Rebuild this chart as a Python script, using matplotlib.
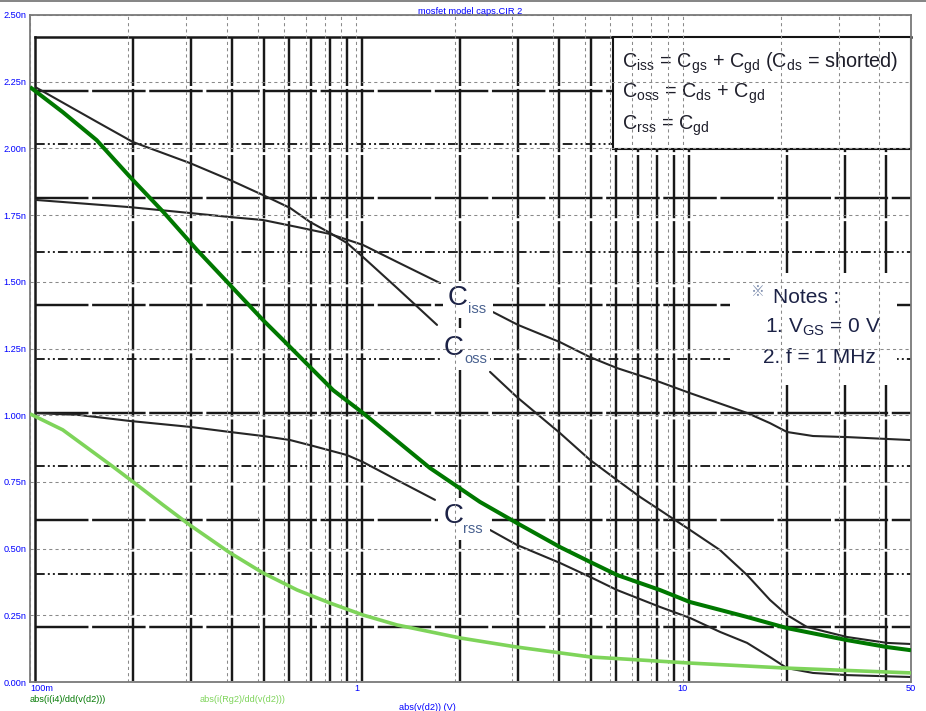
import numpy as np
import matplotlib
matplotlib.use("Agg")
import matplotlib.pyplot as plt
from matplotlib.patches import Rectangle
from matplotlib.lines import Line2D

plt.rcParams['font.family'] = ['Liberation Sans', 'Noto Sans CJK JP', 'DejaVu Sans']

# ---------------- data ----------------
# Micro-Cap simulation curves: x = abs(v(d2)) [V], y = capacitance [nF]
vds_dark = [0.1, 0.126, 0.160, 0.2025, 0.256, 0.325, 0.41, 0.517, 0.596, 0.848, 1.048,
            1.68, 2.39, 3.1, 4.2, 5.2, 6.29, 8.5, 10.5, 15.7, 20.85, 31.85, 42.2, 50]
cap_dark = [2.230, 2.136, 2.031, 1.893, 1.762, 1.619, 1.488, 1.357, 1.282, 1.094, 1.008,
            0.802, 0.675, 0.596, 0.506, 0.450, 0.401, 0.345, 0.300, 0.244, 0.202, 0.157, 0.131, 0.119]

vds_light = [0.1, 0.126, 0.18, 0.207, 0.256, 0.309, 0.41, 0.517, 0.658, 0.83, 1.048, 1.33,
             2.08, 3.1, 5.2, 10.5, 20.85, 50]
cap_light = [1.005, 0.945, 0.806, 0.750, 0.663, 0.588, 0.484, 0.409, 0.345, 0.296, 0.251, 0.214,
             0.165, 0.131, 0.094, 0.071, 0.052, 0.034]

# Datasheet curves (datasheet axes: V_DS [V], C [nF]); two segments each (gap at label)
ciss_x1 = [0.1, 0.195, 0.298, 0.395, 0.498, 0.633, 0.798, 1.007, 1.279, 1.732]
ciss_y1 = [1.793, 1.766, 1.744, 1.729, 1.718, 1.692, 1.666, 1.625, 1.562, 1.483]
ciss_x2 = [2.515, 3.0, 4.03, 4.98, 6.03, 8.15, 10.07, 15.05, 17.69, 19.94, 23.94, 30.42, 40.31, 47.4]
ciss_y2 = [1.375, 1.327, 1.263, 1.207, 1.166, 1.114, 1.073, 0.999, 0.961, 0.928, 0.913, 0.909, 0.902, 0.898]

coss_x1 = [0.1, 0.155, 0.199, 0.298, 0.395, 0.498, 0.6025, 0.693, 0.798, 0.900, 1.007, 1.279, 1.696]
coss_y1 = [2.214, 2.083, 2.009, 1.930, 1.867, 1.811, 1.763, 1.711, 1.670, 1.632, 1.580, 1.465, 1.327]
coss_x2 = [2.463, 2.978, 4.031, 4.98, 6.025, 7.083, 8.152, 10.07, 12.44, 15.05, 17.69, 19.94,
           22.96, 30.42, 40.31, 47.4]
coss_y2 = [1.152, 1.058, 0.924, 0.824, 0.749, 0.686, 0.637, 0.563, 0.488, 0.395, 0.302, 0.246,
           0.201, 0.164, 0.142, 0.138]

crss_x1 = [0.1, 0.1373, 0.1952, 0.2978, 0.3948, 0.4981, 0.6025, 0.7083, 0.8997, 1.007, 1.279, 1.672]
crss_y1 = [0.999, 0.991, 0.969, 0.947, 0.928, 0.913, 0.898, 0.876, 0.842, 0.816, 0.749, 0.675]
crss_x2 = [2.463, 2.978, 4.031, 4.98, 6.025, 8.152, 10.07, 12.44, 15.05, 17.69, 19.94, 23.94, 30.42, 47.4]
crss_y2 = [0.563, 0.507, 0.440, 0.388, 0.339, 0.276, 0.235, 0.183, 0.142, 0.089, 0.048, 0.030, 0.022, 0.015]

# Axis ticks / labels
x_major = [0.1, 1, 10, 50]
x_major_labels = ['100m', '1', '10', '50']
x_minor = [0.2, 0.3, 0.4, 0.5, 0.6, 0.7, 0.8, 0.9, 2, 3, 4, 5, 6, 7, 8, 9, 20, 30, 40]
y_ticks = [0.0, 0.25, 0.5, 0.75, 1.0, 1.25, 1.5, 1.75, 2.0, 2.25, 2.5]
y_tick_labels = ['0.00n', '0.25n', '0.50n', '0.75n', '1.00n', '1.25n', '1.50n',
                 '1.75n', '2.00n', '2.25n', '2.50n']
ds_vgrid = [0.2, 0.3, 0.4, 0.5, 0.6, 0.7, 0.8, 0.9, 1, 2, 3, 4, 5, 6, 7, 8, 9, 10, 20, 30, 40]
ds_hgrid = [0.2, 0.4, 0.6, 0.8, 1.0, 1.2, 1.4, 1.6, 1.8, 2.0, 2.2]

# ---------------- figure ----------------
W, H = 926, 711
fig = plt.figure(figsize=(W / 100, H / 100), dpi=100)
fig.patch.set_facecolor('white')


def fx(px):
    return px / W


def fy(py):
    return 1 - py / H


def ptext(px, py, s, **kw):
    return fig.text(fx(px), fy(py), s, **kw)


# window top border
fig.add_artist(Line2D([0, 1], [fy(0.5), fy(0.5)], transform=fig.transFigure,
                      color='#707070', lw=1.2))

# ---- datasheet layer ----
ax_ds = fig.add_axes([fx(35), fy(681), fx(911) - fx(35), fy(37) - fy(681)], zorder=0)
ax_ds.set_xscale('log')
ax_ds.set_xlim(0.1, 0.1 * 10 ** ((911 - 35) / 327))
ax_ds.set_ylim(0, 2.4)
ax_ds.set_axis_off()

blk = '#181818'
for v in ds_vgrid:
    ax_ds.axvline(v, color=blk, lw=1.75, ls=(0, (26, 1.2)))
ax_ds.axvline(0.1, color=blk, lw=1.8, clip_on=False)
ax_ds.axhline(2.4, color=blk, lw=1.8, clip_on=False)
for i, v in enumerate(ds_hgrid):
    if i % 2 == 0:
        ax_ds.axhline(v, color=blk, lw=1.75, ls=(0, (22, 1.5)))
    else:
        ax_ds.axhline(v, color='#202020', lw=1.4, ls=(0, (5, 1.6, 1, 1.6, 1, 1.6)))

ccol = '#262626'
for xs, ys in [(ciss_x1, ciss_y1), (ciss_x2, ciss_y2), (coss_x1, coss_y1), (coss_x2, coss_y2),
               (crss_x1, crss_y1), (crss_x2, crss_y2)]:
    ax_ds.plot(xs, ys, color=ccol, lw=1.5, solid_capstyle='round')


# white cut-outs of the datasheet (labels, notes, legend box)
def white_rect(x0, y0, x1, y1, z=0.5, ec='none', lw=0):
    r = Rectangle((fx(x0), fy(y1)), fx(x1) - fx(x0), fy(y0) - fy(y1), transform=fig.transFigure,
                  facecolor='white', edgecolor=ec, lw=lw, zorder=z)
    fig.add_artist(r)


white_rect(443, 281, 493, 318)
white_rect(440, 328, 490, 370)
white_rect(438, 498, 490, 540)
white_rect(730, 273, 897, 385)
white_rect(613, 37, 911, 149, ec='#141414', lw=1.5)

navy = '#1c2246'
subc = '#4a6290'
# curve labels
for (cx, cy, sx, sy, sub) in [(448, 305, 468, 313, 'iss'), (444, 355, 464, 363, 'oss'),
                              (444, 523, 463, 533, 'rss')]:
    ptext(cx, cy, 'C', fontsize=20, color=navy, va='baseline', ha='left', zorder=0.6)
    ptext(sx, sy, sub, fontsize=10.5, color=subc, va='baseline', ha='left', zorder=0.6)

# legend box text
lc = '#1e1e2a'
ptext(622, 68, r'$\mathregular{C_{iss}}$ = $\mathregular{C_{gs}}$ + $\mathregular{C_{gd}}$ '
      r'($\mathregular{C_{ds}}$ = shorted)', fontsize=14.3, color=lc, va='baseline', zorder=0.6)
ptext(622, 98, r'$\mathregular{C_{oss}}$ = $\mathregular{C_{ds}}$ + $\mathregular{C_{gd}}$',
      fontsize=14.3, color=lc, va='baseline', zorder=0.6)
ptext(622, 130, r'$\mathregular{C_{rss}}$ = $\mathregular{C_{gd}}$',
      fontsize=14.3, color=lc, va='baseline', zorder=0.6)

# notes
ptext(751, 296, '\u203b', fontsize=10, color='#8090b0', va='baseline', zorder=0.6)
ptext(773, 303, 'Notes :', fontsize=15, color=navy, va='baseline', zorder=0.6)
ptext(765, 333, r'1. $\mathregular{V_{GS}}$ = 0 V', fontsize=15, color=navy, va='baseline', zorder=0.6)
ptext(763, 363, '2. f = 1 MHz', fontsize=15, color=navy, va='baseline', zorder=0.6)

# ---- Micro-Cap layer ----
ax = fig.add_axes([fx(30), fy(682), fx(911) - fx(30), fy(15) - fy(682)], zorder=1)
ax.set_facecolor('none')
ax.set_xscale('log')
ax.set_xlim(0.1, 50)
ax.set_ylim(0, 2.5)
ax.set_xticks(x_major)
ax.set_xticklabels(x_major_labels)
ax.set_xticks(x_minor, minor=True)
ax.set_xticklabels([''] * len(x_minor), minor=True)
ax.set_yticks(y_ticks)
ax.set_yticklabels(y_tick_labels)
ax.grid(True, which='both', axis='x', color='#8a8a8a', lw=0.75, ls=(0, (3, 3)))
ax.grid(True, which='major', axis='y', color='#8a8a8a', lw=0.75, ls=(0, (3, 3)))
ax.tick_params(which='both', length=0, labelcolor='#0000ff', labelsize=6.6)
ax.tick_params(axis='x', pad=1.5)
ax.tick_params(axis='y', pad=2.5)
ax.get_xticklabels()[0].set_ha('left')
for s in ax.spines.values():
    s.set_color('#7a7a7a')
    s.set_linewidth(1.3)

ax.plot(vds_light, cap_light, color='#7ed45a', lw=2.6, zorder=3, solid_capstyle='butt')
ax.plot(vds_dark, cap_dark, color='#007800', lw=2.9, zorder=4, solid_capstyle='butt')

# texts of the simulator
ptext(470, 11, 'mosfet model caps.CIR 2', fontsize=6.7, color='#0000ff', ha='center', va='center')
ptext(30, 699, 'abs(i(i4)/dd(v(d2)))', fontsize=6.6, color='#007800', ha='left', va='center')
ptext(200, 699, 'abs(i(Rg2)/dd(v(d2)))', fontsize=6.6, color='#7ed45a', ha='left', va='center')
ptext(399, 703, 'abs(v(d2)) (V)', fontsize=6.6, color='#0000ff', ha='left', va='top')

fig.savefig('out.png', dpi=100, facecolor='white')
